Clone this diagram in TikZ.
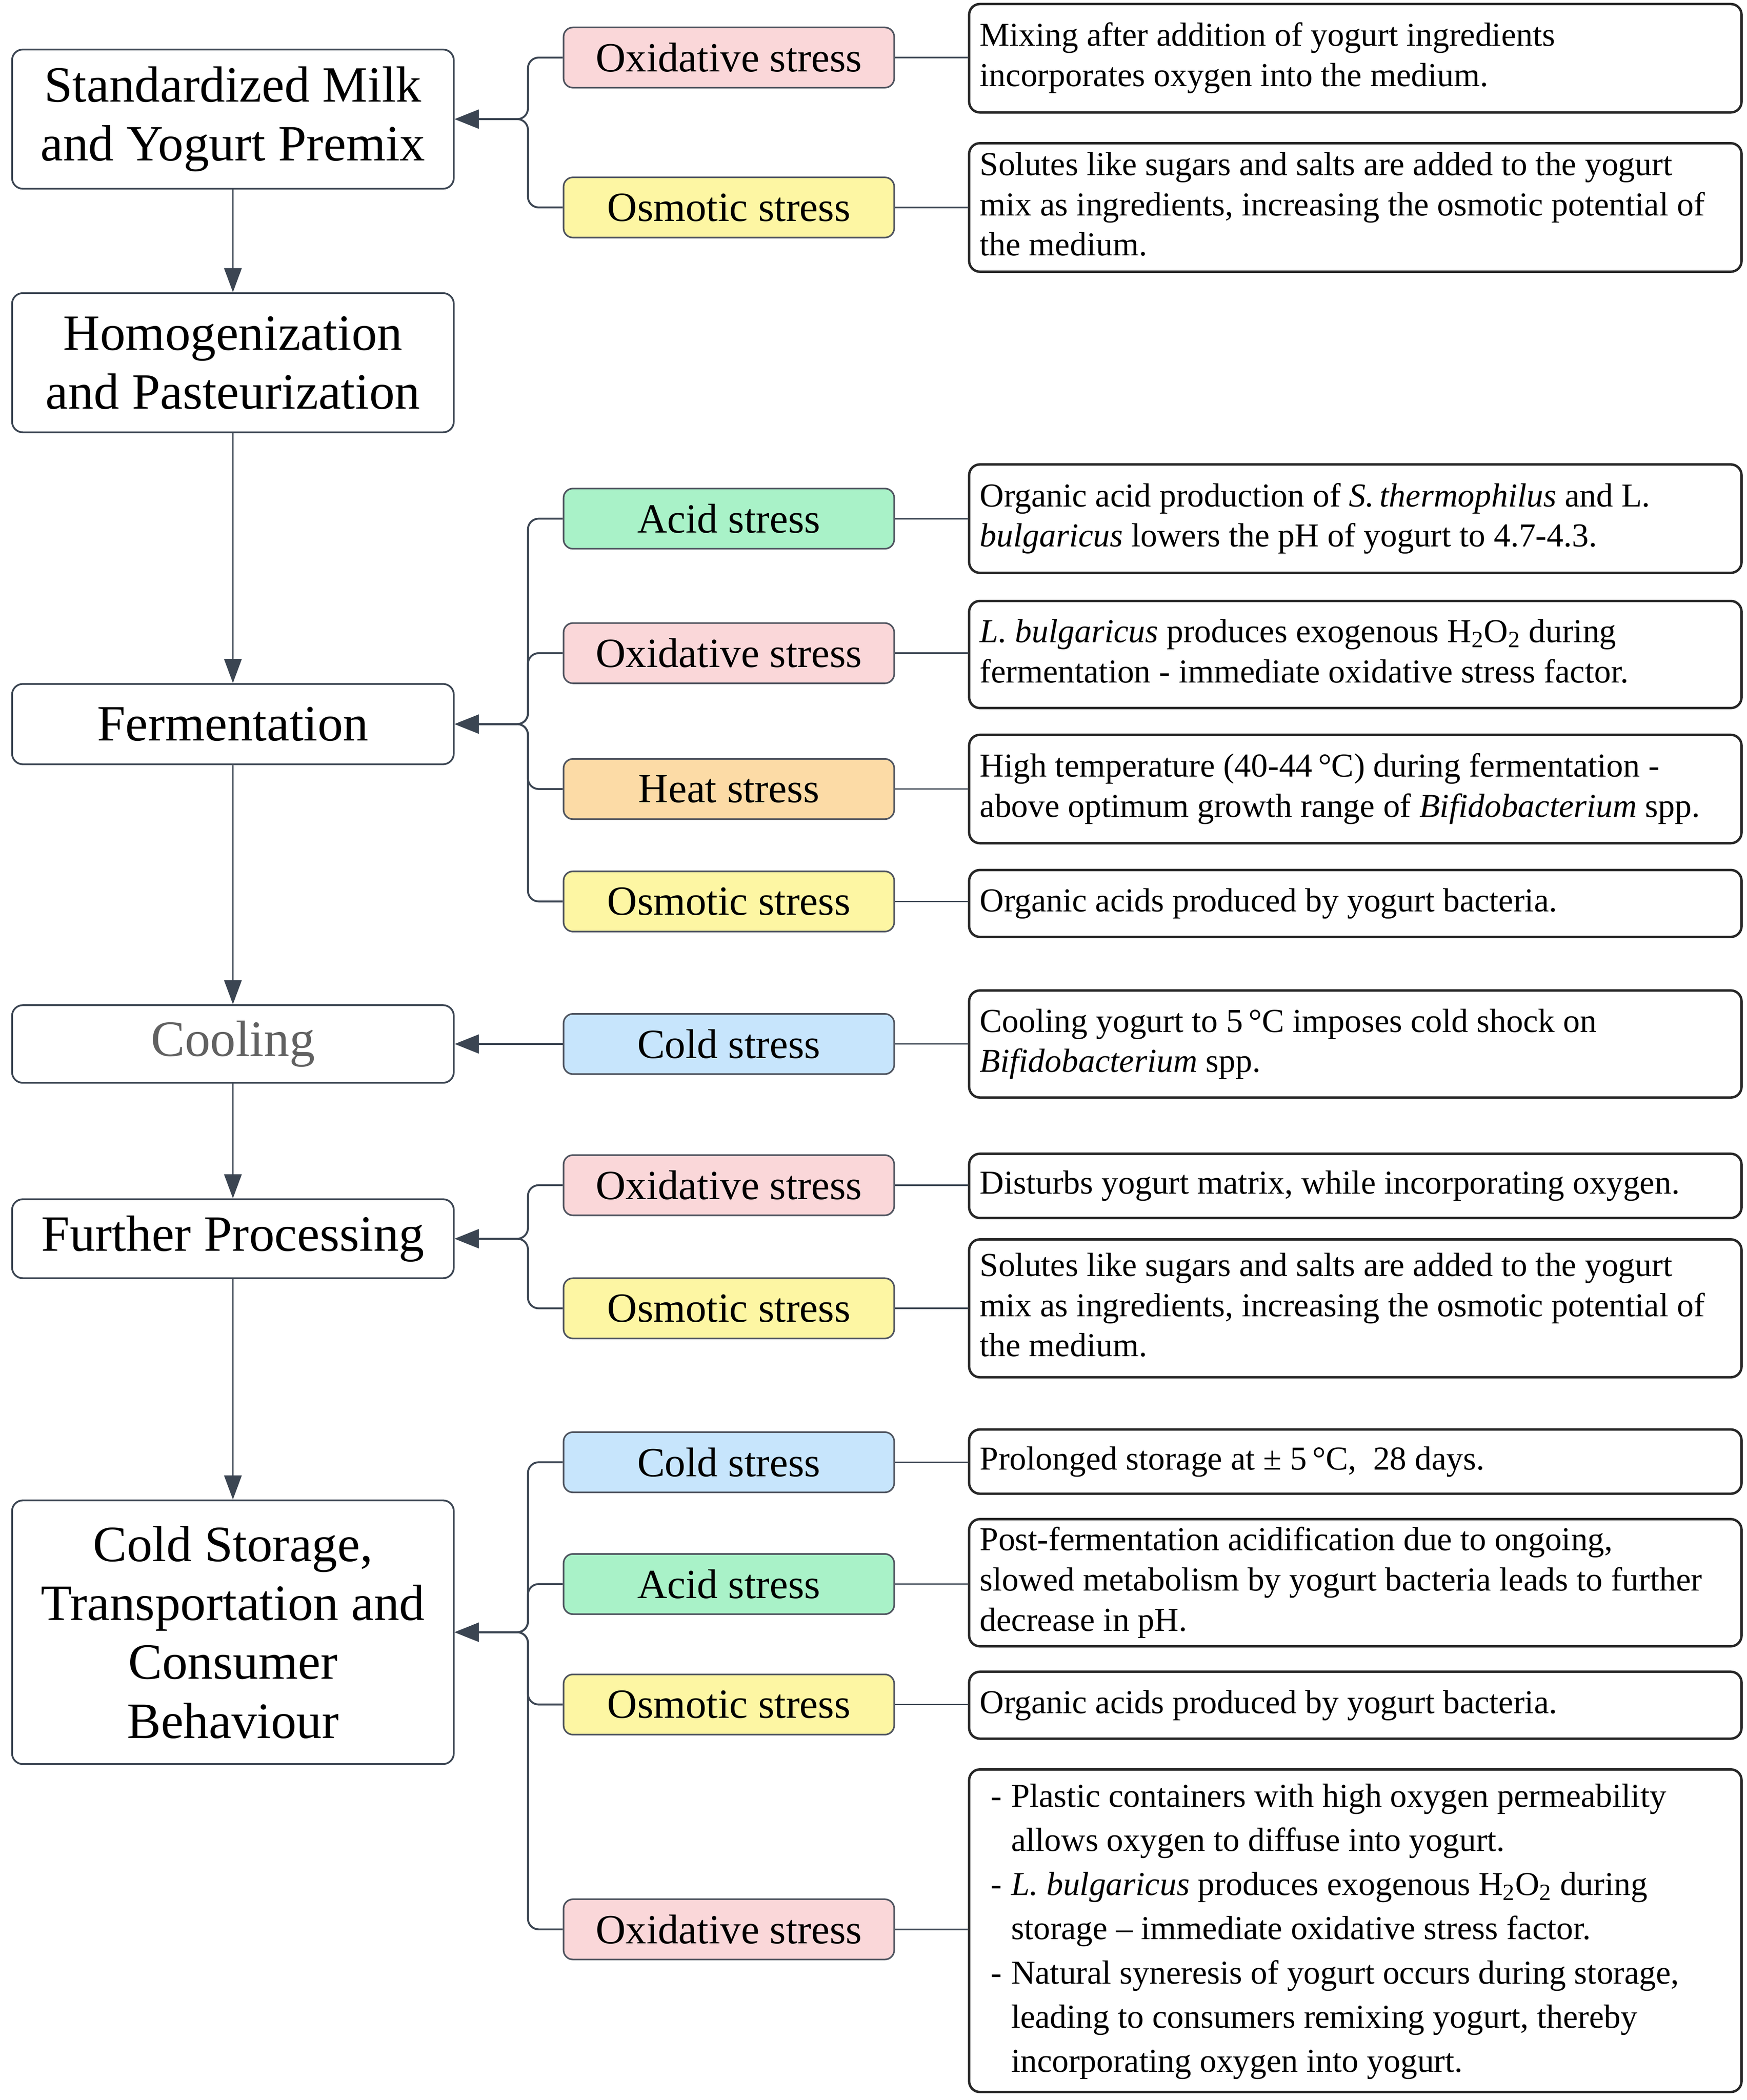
\documentclass[tikz,border=0pt]{standalone}
\usepackage{fontspec}
\setmainfont{Liberation Serif}
\usetikzlibrary{arrows.meta}
\definecolor{lnc}{HTML}{3B4552}
\definecolor{pinkc}{HTML}{FAD7D9}
\definecolor{yelc}{HTML}{FDF6A3}
\definecolor{grnc}{HTML}{A9F2C8}
\definecolor{orgc}{HTML}{FCDBA6}
\definecolor{bluc}{HTML}{C7E5FC}
\definecolor{sbord}{HTML}{505560}
\newcommand\desctext[1]{\makebox[561pt][l]{\begin{tabular}{@{}l@{}}#1\end{tabular}}}
\begin{document}
\begin{tikzpicture}[x=1pt,y=-1pt,
  mainbox/.style={draw=lnc, line width=1.3pt, rounded corners=8pt, minimum width=330pt, align=center, font=\fontsize{38}{44}\selectfont, inner sep=0pt},
  stressbox/.style={draw=sbord, line width=1.2pt, rounded corners=7pt, minimum width=247pt, minimum height=45pt, font=\fontsize{31}{36}\selectfont, inner sep=0pt},
  descbox/.style={draw=black!85, line width=1.8pt, rounded corners=8pt, minimum width=577pt, inner xsep=8pt, inner ysep=0pt, font=\fontsize{25}{30}\selectfont},
  flow/.style={draw=lnc, line width=1.2pt, -{Triangle[length=18pt,width=13pt]}},
  brace/.style={draw=lnc, line width=1.4pt, rounded corners=8pt, -{Triangle[length=18pt,width=14pt]}},
  link/.style={draw=lnc, line width=1.1pt},
]
\fill[white] (0,0) rectangle (1305,1569);
\useasboundingbox (0,0) rectangle (1305,1569);

% main process boxes
\node[mainbox, minimum height=104pt] (m1) at (174,89) {Standardized Milk\\and Yogurt Premix};
\node[mainbox, minimum height=104pt] (m2) at (174,271) {Homogenization\\and Pasteurization};
\node[mainbox, minimum height=60pt] (m3) at (174,541) {Fermentation};
\node[mainbox, minimum height=58pt, text=black!62] (m4) at (174,780) {Cooling};
\node[mainbox, minimum height=59pt] (m5) at (174,925.5) {Further Processing};
\node[mainbox, minimum height=197pt] (m6) at (174,1219.5) {Cold Storage,\\Transportation and\\Consumer\\Behaviour};

\draw[flow] (m1.south) -- (m2.north);
\draw[flow] (m2.south) -- (m3.north);
\draw[flow] (m3.south) -- (m4.north);
\draw[flow] (m4.south) -- (m5.north);
\draw[flow] (m5.south) -- (m6.north);

% stress boxes
\node[stressbox, fill=pinkc] (s1) at (544.5,43) {Oxidative stress};
\node[stressbox, fill=yelc] (s2) at (544.5,155) {Osmotic stress};
\node[stressbox, fill=grnc] (s3) at (544.5,387.5) {Acid stress};
\node[stressbox, fill=pinkc] (s4) at (544.5,488) {Oxidative stress};
\node[stressbox, fill=orgc] (s5) at (544.5,589.5) {Heat stress};
\node[stressbox, fill=yelc] (s6) at (544.5,673.5) {Osmotic stress};
\node[stressbox, fill=bluc] (s7) at (544.5,780) {Cold stress};
\node[stressbox, fill=pinkc] (s8) at (544.5,885.5) {Oxidative stress};
\node[stressbox, fill=yelc] (s9) at (544.5,977.5) {Osmotic stress};
\node[stressbox, fill=bluc] (s10) at (544.5,1092.5) {Cold stress};
\node[stressbox, fill=grnc] (s11) at (544.5,1183.5) {Acid stress};
\node[stressbox, fill=yelc] (s12) at (544.5,1273.5) {Osmotic stress};
\node[stressbox, fill=pinkc] (s13) at (544.5,1441.5) {Oxidative stress};

% description boxes
\node[descbox, minimum height=81pt] (d1) at (1012.5,43.5) {\desctext{Mixing after addition of yogurt ingredients\\incorporates oxygen into the medium.}};
\node[descbox, minimum height=96pt] (d2) at (1012.5,155) {\desctext{Solutes like sugars and salts are added to the yogurt\\mix as ingredients, increasing the osmotic potential of\\the medium.}};
\node[descbox, minimum height=81pt] (d3) at (1012.5,387.5) {\desctext{Organic acid production of \textit{S.\,thermophilus} and L.\\\textit{bulgaricus} lowers the pH of yogurt to 4.7-4.3.}};
\node[descbox, minimum height=80pt] (d4) at (1012.5,489) {\desctext{\textit{L.\ bulgaricus} produces exogenous H\textsubscript{2}O\textsubscript{2} during\\fermentation - immediate oxidative stress factor.}};
\node[descbox, minimum height=81pt] (d5) at (1012.5,589.5) {\desctext{High temperature (40-44\,°C) during fermentation -\\above optimum growth range of \textit{Bifidobacterium} spp.}};
\node[descbox, minimum height=50pt] (d6) at (1012.5,675) {\desctext{Organic acids produced by yogurt bacteria.}};
\node[descbox, minimum height=80pt] (d7) at (1012.5,780) {\desctext{Cooling yogurt to 5\,°C imposes cold shock on\\\textit{Bifidobacterium} spp.}};
\node[descbox, minimum height=48pt] (d8) at (1012.5,886) {\desctext{Disturbs yogurt matrix, while incorporating oxygen.}};
\node[descbox, minimum height=103pt] (d9) at (1012.5,977.5) {\desctext{Solutes like sugars and salts are added to the yogurt\\mix as ingredients, increasing the osmotic potential of\\the medium.}};
\node[descbox, minimum height=48pt] (d10) at (1012.5,1092) {\desctext{Prolonged storage at ± 5\,°C,~ 28 days.}};
\node[descbox, minimum height=95pt] (d11) at (1012.5,1182.5) {\desctext{Post-fermentation acidification due to ongoing,\\slowed metabolism by yogurt bacteria leads to further\\decrease in pH.}};
\node[descbox, minimum height=50pt] (d12) at (1012.5,1274) {\desctext{Organic acids produced by yogurt bacteria.}};
\node[descbox, minimum height=241pt, font=\fontsize{25}{33}\selectfont] (d13) at (1012.5,1442.5) {\makebox[561pt][l]{%
\begin{tabular}{@{\hspace{8pt}}l@{\hspace{7pt}}l@{}}
-& Plastic containers with high oxygen permeability\\
 & allows oxygen to diffuse into yogurt.\\
-& \textit{L.\ bulgaricus} produces exogenous H\textsubscript{2}O\textsubscript{2} during\\
 & storage – immediate oxidative stress factor.\\
-& Natural syneresis of yogurt occurs during storage,\\
 & leading to consumers remixing yogurt, thereby\\
 & incorporating oxygen into yogurt.
\end{tabular}}};

% stress -> description links
\foreach \s/\d in {s1/d1,s2/d2,s3/d3,s4/d4,s5/d5,s6/d6,s7/d7,s8/d8,s9/d9,s10/d10,s11/d11,s12/d12,s13/d13}
  \draw[link] (\s.east) -- (\s.east -| \d.west);

% stress -> process brackets
\foreach \s in {s1,s2} \draw[brace] (\s.west) -- ++(-26pt,0) |- (m1.east);
\foreach \s in {s3,s4,s5,s6} \draw[brace] (\s.west) -- ++(-26pt,0) |- (m3.east);
\draw[brace] (s7.west) -- (m4.east);
\foreach \s in {s8,s9} \draw[brace] (\s.west) -- ++(-26pt,0) |- (m5.east);
\foreach \s in {s10,s11,s12,s13} \draw[brace] (\s.west) -- ++(-26pt,0) |- (m6.east);
\end{tikzpicture}
\end{document}
